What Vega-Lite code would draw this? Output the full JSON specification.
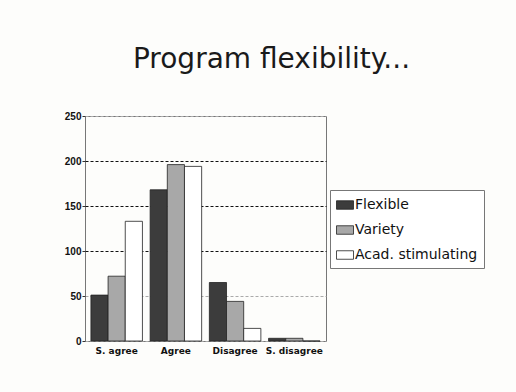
{
  "$schema": "https://vega.github.io/schema/vega-lite/v6.json",
  "width": 241,
  "height": 225,
  "autosize": {"type": "none"},
  "padding": {"left": 85, "top": 116, "right": 190, "bottom": 51},
  "background": "#fdfdfb",
  "title": {
    "text": "Program flexibility...",
    "font": "DejaVu Sans",
    "fontSize": 28,
    "fontWeight": "normal",
    "color": "#1a1a1a",
    "anchor": "middle",
    "dx": 66,
    "offset": 37
  },
  "data": {
    "values": [
      {"response": "S. agree", "series": "Flexible", "count": 51},
      {"response": "S. agree", "series": "Variety", "count": 72},
      {"response": "S. agree", "series": "Acad. stimulating", "count": 133},
      {"response": "Agree", "series": "Flexible", "count": 168},
      {"response": "Agree", "series": "Variety", "count": 196},
      {"response": "Agree", "series": "Acad. stimulating", "count": 194},
      {"response": "Disagree", "series": "Flexible", "count": 65},
      {"response": "Disagree", "series": "Variety", "count": 44},
      {"response": "Disagree", "series": "Acad. stimulating", "count": 14},
      {"response": "S. disagree", "series": "Flexible", "count": 3},
      {"response": "S. disagree", "series": "Variety", "count": 3},
      {"response": "S. disagree", "series": "Acad. stimulating", "count": 0}
    ]
  },
  "mark": {"type": "bar", "stroke": "#222", "strokeWidth": 0.8},
  "encoding": {
    "x": {
      "field": "response",
      "type": "nominal",
      "sort": ["S. agree", "Agree", "Disagree", "S. disagree"],
      "scale": {"paddingInner": 0.13, "paddingOuter": 0.1},
      "axis": {
        "title": null,
        "labelAngle": 0,
        "ticks": false,
        "domain": false,
        "labelFont": "DejaVu Sans",
        "labelFontWeight": "bold",
        "labelFontSize": 9,
        "labelColor": "#111",
        "labelPadding": 5
      }
    },
    "xOffset": {
      "field": "series",
      "type": "nominal",
      "sort": ["Flexible", "Variety", "Acad. stimulating"]
    },
    "y": {
      "field": "count",
      "type": "quantitative",
      "scale": {"domain": [0, 250]},
      "axis": {
        "title": null,
        "values": [0, 50, 100, 150, 200, 250],
        "domain": false,
        "tickSize": 3,
        "tickColor": "#333",
        "labelFont": "Liberation Sans",
        "labelFontWeight": "bold",
        "labelFontSize": 10,
        "labelColor": "#111",
        "labelPadding": 1,
        "gridDash": [3, 2],
        "gridColor": {"condition": {"test": "datum.value == 50 || datum.value == 0 || datum.value == 250", "value": "#aaaaaa"}, "value": "#111111"},
        "gridWidth": 1
      }
    },
    "fill": {
      "field": "series",
      "type": "nominal",
      "sort": ["Flexible", "Variety", "Acad. stimulating"],
      "scale": {
        "domain": ["Flexible", "Variety", "Acad. stimulating"],
        "range": ["#3c3c3c", "#a8a8a8", "#ffffff"]
      },
      "legend": {
        "title": null,
        "orient": "none",
        "legendX": 245,
        "legendY": 74,
        "symbolType": "M-1,-0.5H1V0.5H-1Z",
        "symbolSize": 289,
        "symbolStrokeColor": "#222",
        "symbolStrokeWidth": 0.8,
        "labelFont": "DejaVu Sans",
        "labelFontSize": 14,
        "labelColor": "#111",
        "labelOffset": 1,
        "rowPadding": 9,
        "padding": 6,
        "strokeColor": "#777",
        "fillColor": "#ffffff"
      }
    }
  },
  "config": {
    "view": {"stroke": "#777", "strokeWidth": 1}
  }
}
